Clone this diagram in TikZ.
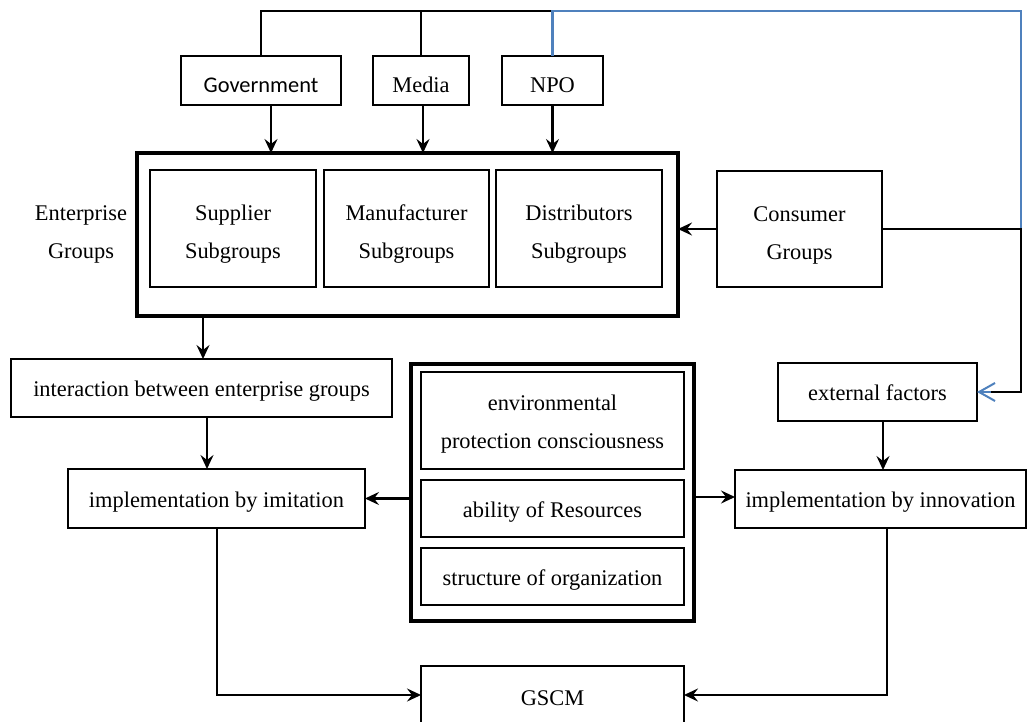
\documentclass[tikz,border=0pt]{standalone}
\usepackage{fontspec}
\setmainfont{Liberation Serif}
\newfontfamily\calfont{Carlito}
\usetikzlibrary{arrows.meta,calc}
\definecolor{lineblue}{HTML}{4F81BD}
\newcommand{\upstrut}[1]{\rule{0pt}{#1}}
\begin{document}
\begin{tikzpicture}[x=1pt,y=-1pt,
  box/.style={draw,line width=2.2pt,inner sep=0pt,outer sep=0pt,align=center,
     font=\fontsize{22.4}{38}\selectfont},
  oneline/.style={text height=17pt,text depth=0pt},
  topline/.style={text height=24pt,text depth=0pt},
  outerbox/.style={draw,line width=3.4pt,inner sep=0pt,outer sep=0pt},
  conn/.style={line width=2.2pt},
  arr/.style={conn,-{Stealth[length=14pt,width=13pt,inset=5pt]}},
  lbl/.style={align=center,font=\fontsize{22.4}{38}\selectfont}]
\useasboundingbox (0,0) rectangle (1028,722);
\clip (0,0) rectangle (1028,722);
% top row
\node[box,topline,minimum width=160pt,minimum height=49pt,font=\calfont\fontsize{22.4}{26}\selectfont] (gov) at (261,80.5) {Government};
\node[box,topline,minimum width=96pt,minimum height=49pt] (media) at (421,80.5) {Media};
\node[box,topline,minimum width=101pt,minimum height=49pt] (npo) at (552.5,80.5) {NPO};
% enterprise groups
\node[outerbox,minimum width=541pt,minimum height=163pt] (ent) at (407.5,234.5) {};
\node[lbl] (entl) at (81,232) {\upstrut{19.5pt}Enterprise\\Groups};
\node[box,minimum width=166pt,minimum height=117pt] (sup) at (233,228.5) {\upstrut{27pt}Supplier\\Subgroups};
\node[box,minimum width=165pt,minimum height=117pt] (man) at (406.5,228.5) {\upstrut{27pt}Manufacturer\\Subgroups};
\node[box,minimum width=166pt,minimum height=117pt] (dis) at (579,228.5) {\upstrut{27pt}Distributors\\Subgroups};
\node[box,minimum width=165pt,minimum height=116pt] (con) at (799.5,229) {\upstrut{27pt}Consumer\\Groups};
% middle
\node[box,oneline,minimum width=381pt,minimum height=58pt] (intr) at (201.5,388) {interaction between enterprise groups};
\node[box,oneline,minimum width=297pt,minimum height=59pt] (imi) at (216.5,498.5) {implementation by imitation};
\node[outerbox,minimum width=283pt,minimum height=257pt] (cen) at (552.5,492.5) {};
\node[box,minimum width=263pt,minimum height=97pt] (env) at (552.5,420.5) {\upstrut{23pt}environmental\\protection consciousness};
\node[box,oneline,minimum width=263pt,minimum height=57pt] (abl) at (552.5,508.5) {ability of Resources};
\node[box,oneline,minimum width=263pt,minimum height=57pt] (str) at (552.5,576.5) {structure of organization};
\node[box,oneline,minimum width=199pt,minimum height=58pt] (ext) at (877.5,392) {external factors};
\node[box,oneline,minimum width=291pt,minimum height=58pt] (inn) at (880.5,499) {implementation by innovation};
\node[box,oneline,minimum width=263pt,minimum height=62pt] (gscm) at (552.5,697) {GSCM};
% helper coordinates
\coordinate (top) at (0,11);
\coordinate (rt) at (1021,0);
\coordinate (xg) at (271,0);
\coordinate (xm) at (423,0);
\coordinate (xe) at (203,0);
\coordinate (xi) at (207,0);
\coordinate (xim) at (217,0);
\coordinate (xex) at (883,0);
\coordinate (xin) at (887,0);
\coordinate (yg) at (0,695);
\coordinate (yc) at (0,497);
% top feedback lines
\draw[conn] (gov.north) -- (gov.north |- top) -- (npo.north |- top);
\draw[conn] (media.north) -- (media.north |- top);
\draw[conn,lineblue] (npo.north) -- (npo.north |- top) -- (rt |- top) -- (rt |- con.east);
% arrows down into enterprise groups
\draw[arr] (gov.south -| xg) -- (ent.north -| xg);
\draw[arr] (media.south -| xm) -- (ent.north -| xm);
\draw[arr] (npo.south) -- (npo.south |- ent.north);
\draw[arr] (con.west) -- (con.west -| ent.east);
% consumer to external factors
\draw[conn,lineblue,-{Straight Barb[length=16pt,width=18pt,line width=2pt]}] ($(ext.east)+(20pt,0)$) -- (ext.east);
\draw[conn] (con.east) -- (rt |- con.east) -- (rt |- ext.east) -- ($(ext.east)+(14pt,0)$);
% left chain
\draw[arr] (ent.south -| xe) -- (intr.north -| xe);
\draw[arr] (intr.south -| xi) -- (imi.north -| xi);
\draw[arr] (cen.west |- imi.east) -- (imi.east);
\draw[arr] (cen.east |- yc) -- (inn.west |- yc);
\draw[arr] (ext.south -| xex) -- (inn.north -| xex);
\draw[arr] (imi.south -| xim) -- (xim |- yg) -- (gscm.west |- yg);
\draw[arr] (inn.south -| xin) -- (xin |- yg) -- (gscm.east |- yg);
\end{tikzpicture}
\end{document}
